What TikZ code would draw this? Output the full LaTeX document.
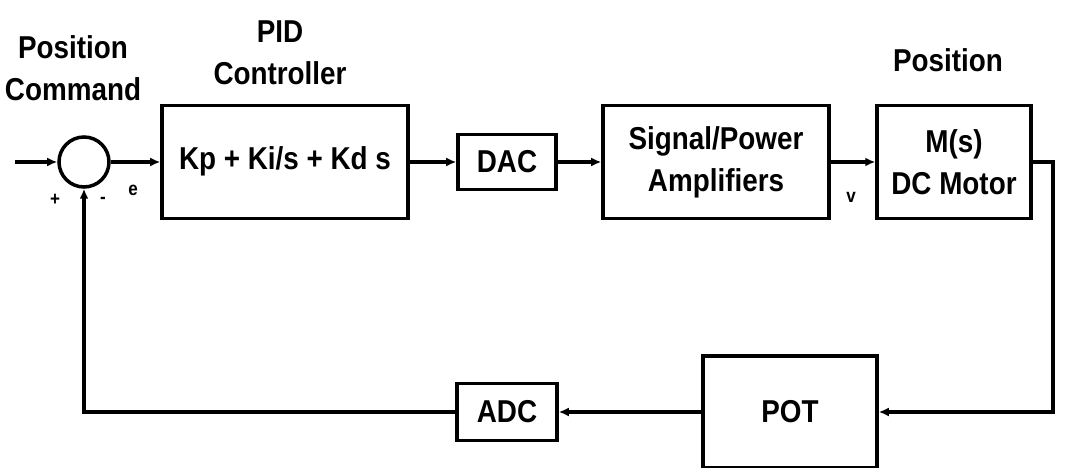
\documentclass[tikz,border=0pt]{standalone}
\usepackage{fontspec}
\setmainfont{Liberation Sans}[FakeStretch=0.88]
\usetikzlibrary{arrows.meta,calc,positioning}

\begin{document}
\begin{tikzpicture}[
  every node/.style={font=\bfseries\fontsize{18}{24}\selectfont},
  blk/.style={draw=black,line width=2pt,inner sep=0pt,align=center},
  sumnode/.style={circle,draw=black,line width=2pt,minimum size=10mm,inner sep=0pt},
  sig/.style={-{Latex[length=2mm,width=1.8mm]},line width=2pt},
  smalllbl/.style={font=\bfseries\fontsize{11}{12}\selectfont}
]
\useasboundingbox (0,0) rectangle (21.3,9.36);

% forward path
\coordinate (in) at (0.3,6.12);
\node[sumnode] (sum) at (1.68,6.12) {};
\node[blk,minimum width=4.92cm,minimum height=2.26cm] (pid) at (5.7,6.12)
  {\raisebox{1.6mm}{Kp + Ki/s + Kd s}};
\node[blk,minimum width=1.96cm,minimum height=1.1cm] (dac) at (10.14,6.12) {DAC};
\node[blk,minimum width=4.52cm,minimum height=2.26cm] (amp) at (14.32,6.12)
  {Signal/Power\\Amplifiers};
\node[blk,minimum width=3.08cm,minimum height=2.26cm] (motor) at (19.08,6.12)
  {M(s)\\DC Motor};

% feedback path
\node[blk,minimum width=3.48cm,minimum height=2.24cm] (pot) at (15.8,1.12) {POT};
\node[blk,minimum width=2.0cm,minimum height=1.14cm] (adc) at (10.14,1.12) {ADC};
\coordinate (tap) at (21.06,6.12);

% labels
\node[align=center] (cmdlbl) at (1.46,7.99) {Position\\Command};
\node[align=center] (pidlbl) at (5.6,8.31) {PID\\Controller};
\node (poslbl) at (18.96,8.16) {Position};
\node[smalllbl] (plus)  at (1.1,5.36)  {+};
\node[smalllbl] (minus) at (2.06,5.36) {-};
\node[smalllbl] (elbl)  at (2.66,5.56) {e};
\node[smalllbl] (vlbl)  at (17.02,5.42) {v};

% connectors
\draw[sig] (in) -- (sum);
\draw[sig] (sum) -- (pid);
\draw[sig] (pid) -- (dac);
\draw[sig] (dac) -- (amp);
\draw[sig] (amp) -- (motor);
\draw[sig] (motor.east) -- (tap) |- (pot.east);
\draw[sig] (pot) -- (adc);
\draw[sig] (adc.west) -| (sum.south);
\end{tikzpicture}
\end{document}
